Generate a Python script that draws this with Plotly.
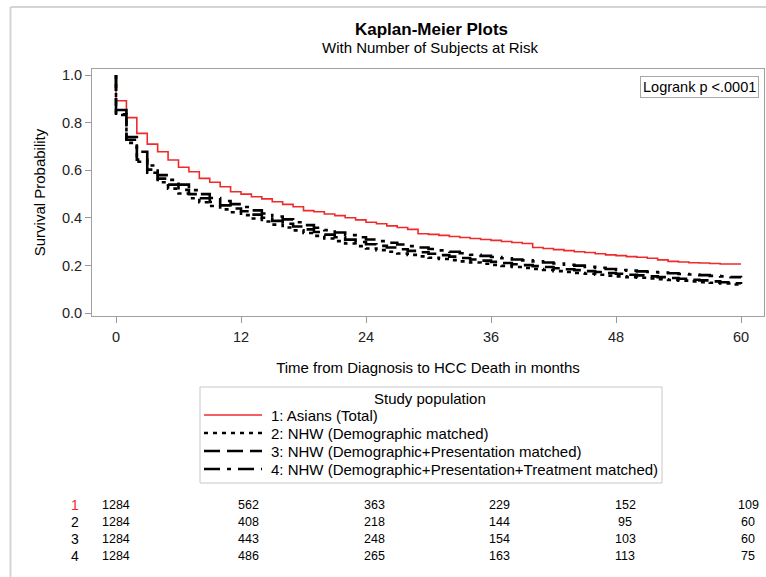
import plotly.graph_objects as go

# ---------------- data ----------------
months = list(range(0, 61))

group_names = [
    "1: Asians (Total)",
    "2: NHW (Demographic matched)",
    "3: NHW (Demographic+Presentation matched)",
    "4: NHW (Demographic+Presentation+Treatment matched)",
]

surv_asians = [0.892, 0.821, 0.755, 0.710, 0.678, 0.643, 0.613, 0.594, 0.566, 0.550,
               0.531, 0.510, 0.500, 0.489, 0.480, 0.468, 0.457, 0.447, 0.431, 0.426,
               0.417, 0.410, 0.401, 0.392, 0.382, 0.376, 0.367, 0.360, 0.352, 0.334,
               0.331, 0.327, 0.322, 0.318, 0.314, 0.310, 0.306, 0.301, 0.297, 0.293,
               0.276, 0.272, 0.267, 0.263, 0.258, 0.255, 0.250, 0.245, 0.242, 0.238,
               0.235, 0.231, 0.224, 0.218, 0.215, 0.212, 0.211, 0.209, 0.207, 0.207,
               0.207]
surv_nhw_demo = [0.832, 0.715, 0.636, 0.590, 0.550, 0.523, 0.503, 0.483, 0.466, 0.450,
                 0.436, 0.424, 0.412, 0.398, 0.385, 0.372, 0.360, 0.348, 0.337, 0.325,
                 0.314, 0.303, 0.293, 0.282, 0.272, 0.265, 0.258, 0.251, 0.245, 0.239,
                 0.233, 0.228, 0.223, 0.218, 0.213, 0.208, 0.203, 0.199, 0.194, 0.190,
                 0.186, 0.182, 0.177, 0.173, 0.169, 0.166, 0.162, 0.158, 0.155, 0.152,
                 0.149, 0.146, 0.143, 0.140, 0.137, 0.134, 0.131, 0.128, 0.125, 0.121,
                 0.118]
surv_nhw_pres = [0.835, 0.728, 0.645, 0.603, 0.565, 0.540, 0.518, 0.500, 0.483, 0.467,
                 0.453, 0.440, 0.428, 0.414, 0.401, 0.388, 0.376, 0.364, 0.352, 0.341,
                 0.330, 0.319, 0.309, 0.299, 0.290, 0.283, 0.276, 0.269, 0.262, 0.256,
                 0.250, 0.244, 0.238, 0.232, 0.226, 0.221, 0.216, 0.211, 0.206, 0.202,
                 0.198, 0.194, 0.189, 0.185, 0.181, 0.177, 0.173, 0.169, 0.166, 0.162,
                 0.159, 0.155, 0.152, 0.148, 0.145, 0.141, 0.138, 0.134, 0.130, 0.126,
                 0.123]
surv_nhw_treat = [0.853, 0.740, 0.678, 0.620, 0.580, 0.560, 0.540, 0.517, 0.500, 0.484,
                  0.471, 0.458, 0.446, 0.432, 0.419, 0.406, 0.394, 0.382, 0.370, 0.359,
                  0.349, 0.339, 0.328, 0.319, 0.310, 0.303, 0.296, 0.289, 0.282, 0.276,
                  0.270, 0.264, 0.258, 0.252, 0.246, 0.241, 0.236, 0.231, 0.226, 0.222,
                  0.218, 0.213, 0.209, 0.204, 0.200, 0.195, 0.191, 0.186, 0.182, 0.179,
                  0.176, 0.173, 0.171, 0.168, 0.165, 0.163, 0.160, 0.157, 0.155, 0.152,
                  0.150]

risk_times = [0, 12, 24, 36, 48, 60]
risk_labels = ["1", "2", "3", "4"]
risk_asians = [1284, 562, 363, 229, 152, 109]
risk_nhw_demo = [1284, 408, 218, 144, 95, 60]
risk_nhw_pres = [1284, 443, 248, 154, 103, 60]
risk_nhw_treat = [1284, 486, 265, 163, 113, 75]

x_ticks = [0, 12, 24, 36, 48, 60]
y_ticks = [0.0, 0.2, 0.4, 0.6, 0.8, 1.0]

# ---------------- styling ----------------
W, H = 766, 577
L, R, T, B = 92, 764, 69, 316   # plot area in pixels
FONT = "Liberation Sans, Arial, sans-serif"
RED = "#f02a2a"
styles = [
    dict(color=RED, width=1.6, dash="solid"),
    dict(color="black", width=2.6, dash="4px,5px"),
    dict(color="black", width=2.6, dash="16px,7px"),
    dict(color="black", width=2.6, dash="16px,7px,4px,7px"),
]


def px_x(p):
    return (p - L) / (R - L)


def px_y(p):
    return (B - p) / (B - T)


fig = go.Figure()
series = [surv_asians, surv_nhw_demo, surv_nhw_pres, surv_nhw_treat]
for name, vals, st in zip(group_names, series, styles):
    fig.add_trace(go.Scatter(
        x=[0] + months, y=[1.0] + vals, mode="lines", name=name,
        line=dict(shape="hv", **st), showlegend=False, hoverinfo="skip"))

ann = []
shapes = []

# titles
ann.append(dict(text="<b>Kaplan-Meier Plots</b>", x=px_x(431), y=px_y(30), xref="paper", yref="paper",
                showarrow=False, font=dict(size=17, family=FONT, color="black"), xanchor="center", yanchor="middle"))
ann.append(dict(text="With Number of Subjects at Risk", x=px_x(430), y=px_y(48), xref="paper", yref="paper",
                showarrow=False, font=dict(size=15, family=FONT, color="black"), xanchor="center", yanchor="middle"))

# logrank box
ann.append(dict(text="Logrank p <.0001", x=px_x(759), y=px_y(76), xref="paper", yref="paper",
                showarrow=False, font=dict(size=14.5, family=FONT, color="black"), xanchor="right", yanchor="top",
                bordercolor="#a8a8a8", borderwidth=1, borderpad=2, bgcolor="white"))

# legend box
shapes.append(dict(type="rect", xref="paper", yref="paper", x0=px_x(200), x1=px_x(662), y0=px_y(387), y1=px_y(483),
                   line=dict(color="#c8c8c8", width=1)))
ann.append(dict(text="Study population", x=px_x(430), y=px_y(398), xref="paper", yref="paper",
                showarrow=False, font=dict(size=15, family=FONT, color="black"), xanchor="center", yanchor="middle"))
row_y = [415, 433, 451, 469]
for name, st, ry in zip(group_names, styles, row_y):
    shapes.append(dict(type="line", xref="paper", yref="paper", x0=px_x(204), x1=px_x(262),
                       y0=px_y(ry), y1=px_y(ry), line=dict(color=st["color"], width=st["width"], dash=st["dash"])))
    ann.append(dict(text=name, x=px_x(269), y=px_y(ry), xref="paper", yref="paper", showarrow=False,
                    font=dict(size=15, family=FONT, color="black"), xanchor="left", yanchor="middle"))

# risk table
table_y = [505, 522, 539, 556]
risk_rows = [risk_asians, risk_nhw_demo, risk_nhw_pres, risk_nhw_treat]
shifts = [0, 7, 8, 8, 9, 7]
for lab, row, ry in zip(risk_labels, risk_rows, table_y):
    ann.append(dict(text=lab, x=px_x(75), y=px_y(ry), xref="paper", yref="paper", showarrow=False,
                    font=dict(size=14, family=FONT, color=RED if lab == "1" else "black"),
                    xanchor="center", yanchor="middle"))
    for t, n, sh in zip(risk_times, row, shifts):
        ann.append(dict(text=str(n), x=t, y=px_y(ry), xref="x", yref="paper", showarrow=False, xshift=sh,
                        font=dict(size=12.5, family=FONT, color="black"), xanchor="center", yanchor="middle"))

# outer light border (left and top)
shapes.append(dict(type="line", xref="paper", yref="paper", x0=px_x(10.5), x1=px_x(10.5), y0=px_y(7), y1=px_y(580),
                   line=dict(color="#d4d4d4", width=2)))
shapes.append(dict(type="line", xref="paper", yref="paper", x0=px_x(10.5), x1=px_x(770), y0=px_y(7), y1=px_y(7),
                   line=dict(color="#d4d4d4", width=2)))

x_lo = (L - 116) / ((741 - 116) / 60)
x_hi = 60 + (R - 741) / ((741 - 116) / 60)
y_lo = -(B - 313.3) / 238.3
y_hi = 1.0 + (75 - T) / 238.3

fig.update_layout(
    width=W, height=H,
    margin=dict(l=L, r=W - R, t=T, b=H - B, autoexpand=False),
    paper_bgcolor="white", plot_bgcolor="white",
    font=dict(family=FONT, color="black"),
    annotations=ann, shapes=shapes,
    xaxis=dict(range=[x_lo, x_hi], tickvals=x_ticks, ticks="outside", ticklen=6, tickcolor="#999999",
               showline=True, mirror=True, linecolor="#a0a0a0", linewidth=1, showgrid=False, zeroline=False,
               tickfont=dict(size=14.5, family=FONT, color="#222222"), ticklabelstandoff=2,
               title=dict(text="Time from Diagnosis to HCC Death in months", standoff=18,
                          font=dict(size=15, family=FONT, color="black"))),
    yaxis=dict(range=[y_lo, y_hi], tickvals=y_ticks, tickformat=".1f", ticks="outside", ticklen=6,
               tickcolor="#999999", showline=True, mirror=True, linecolor="#a0a0a0", linewidth=1,
               showgrid=False, zeroline=False,
               tickfont=dict(size=14.5, family=FONT, color="#222222"),
               title=dict(text="Survival Probability", standoff=12,
                          font=dict(size=15, family=FONT, color="black"))),
)

fig.write_html("out.html", config={"displayModeBar": False},
               post_script="document.body.style.margin='0';document.body.style.overflow='hidden';")
